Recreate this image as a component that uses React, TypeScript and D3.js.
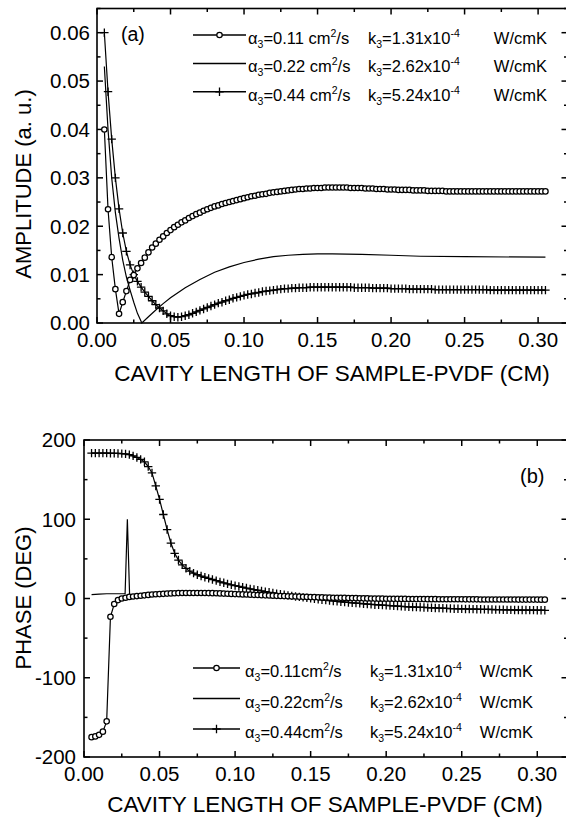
import React from "react";
import * as d3 from "d3";

// ---------- data ----------
// sample positions (cavity length, cm) of the marker series
const sampleX: number[] = d3.range(121).map((i) => +(0.005 + 0.0025 * i).toFixed(4));

// (a) amplitude, alpha3 = 0.11 (circles)
const ampA: number[] = [
  0.0400, 0.0235, 0.0136, 0.0070, 0.0019, 0.0043, 0.0066, 0.0089, 0.0099, 0.0113,
  0.0124, 0.0135, 0.0146, 0.0156, 0.0164, 0.0172, 0.0179, 0.0186, 0.0192, 0.0198,
  0.0203, 0.0208, 0.0212, 0.0217, 0.0221, 0.0225, 0.0228, 0.0232, 0.0235, 0.0238,
  0.0241, 0.0243, 0.0246, 0.0248, 0.0250, 0.0252, 0.0254, 0.0256, 0.0258, 0.0260,
  0.0262, 0.0263, 0.0265, 0.0266, 0.0267, 0.0269, 0.0270, 0.0271, 0.0272, 0.0273,
  0.0274, 0.0275, 0.0276, 0.0277, 0.0277, 0.0278, 0.0278, 0.0279, 0.0279, 0.0279,
  0.0280, 0.0280, 0.0280, 0.0280, 0.0280, 0.0280, 0.0280, 0.0279, 0.0279, 0.0279,
  0.0279, 0.0278, 0.0278, 0.0278, 0.0277, 0.0277, 0.0277, 0.0276, 0.0276, 0.0276,
  0.0275, 0.0275, 0.0275, 0.0275, 0.0274, 0.0274, 0.0274, 0.0274, 0.0273, 0.0273,
  0.0273, 0.0273, 0.0273, 0.0272, 0.0272, 0.0272, 0.0272, 0.0272, 0.0272, 0.0272,
  0.0272, 0.0272, 0.0272, 0.0272, 0.0272, 0.0272, 0.0272, 0.0272, 0.0272, 0.0272,
  0.0272, 0.0272, 0.0272, 0.0272, 0.0272, 0.0272, 0.0272, 0.0272, 0.0272, 0.0272,
  0.0272,
];

// (a) amplitude, alpha3 = 0.44 (plus)
const ampC: number[] = [
  0.0600, 0.0478, 0.0380, 0.0300, 0.0236, 0.0186, 0.0148, 0.0120, 0.0100, 0.0086,
  0.0074, 0.0064, 0.0055, 0.0046, 0.0038, 0.0031, 0.0025, 0.0019, 0.0015, 0.0013,
  0.0012, 0.0013, 0.0015, 0.0017, 0.0020, 0.0023, 0.0026, 0.0029, 0.0032, 0.0035,
  0.0038, 0.0041, 0.0043, 0.0046, 0.0048, 0.0051, 0.0053, 0.0055, 0.0057, 0.0059,
  0.0060, 0.0062, 0.0063, 0.0065, 0.0066, 0.0067, 0.0068, 0.0069, 0.0070, 0.0071,
  0.0071, 0.0072, 0.0072, 0.0073, 0.0073, 0.0073, 0.0074, 0.0074, 0.0074, 0.0074,
  0.0074, 0.0074, 0.0074, 0.0074, 0.0074, 0.0074, 0.0074, 0.0074, 0.0073, 0.0073,
  0.0073, 0.0073, 0.0073, 0.0072, 0.0072, 0.0072, 0.0072, 0.0072, 0.0071, 0.0071,
  0.0071, 0.0071, 0.0071, 0.0070, 0.0070, 0.0070, 0.0070, 0.0070, 0.0070, 0.0070,
  0.0069, 0.0069, 0.0069, 0.0069, 0.0069, 0.0069, 0.0069, 0.0069, 0.0069, 0.0069,
  0.0069, 0.0069, 0.0069, 0.0069, 0.0069, 0.0068, 0.0068, 0.0068, 0.0068, 0.0068,
  0.0068, 0.0068, 0.0068, 0.0068, 0.0068, 0.0068, 0.0068, 0.0068, 0.0068, 0.0068,
  0.0068,
];

// (a) amplitude, alpha3 = 0.22 (solid line)
const ampBX: number[] = [0.005, 0.0075, 0.01, 0.0125, 0.015, 0.0175, 0.02, 0.0225, 0.025, 0.0275, 0.0305, 0.035, 0.04, 0.045, 0.05, 0.06, 0.07, 0.08, 0.09, 0.10, 0.11, 0.12, 0.13, 0.14, 0.15, 0.16, 0.18, 0.20, 0.22, 0.25, 0.305];
const ampBY: number[] = [0.0530, 0.0400, 0.0300, 0.0228, 0.0175, 0.0130, 0.0095, 0.0068, 0.0043, 0.0020, 0.0, 0.0013, 0.0027, 0.0040, 0.0052, 0.0073, 0.0090, 0.0105, 0.0116, 0.0125, 0.0132, 0.0137, 0.0140, 0.0142, 0.0143, 0.0143, 0.0142, 0.0140, 0.0138, 0.0137, 0.0136];

// (b) phase, alpha3 = 0.11 (circles)
const phA: number[] = [
  -175, -174, -172, -168, -155, -23, -7, -2, 0, 1,
  2, 2.5, 3, 3.5, 4, 4.5, 5, 5.3, 5.6, 5.9,
  6.2, 6.4, 6.6, 6.8, 6.9, 7, 7, 7, 7, 7,
  6.9, 6.8, 6.7, 6.6, 6.4, 6.2, 6.0, 5.8, 5.6, 5.4,
  5.2, 5.0, 4.8, 4.6, 4.4, 4.2, 4.0, 3.8, 3.6, 3.4,
  3.2, 3.0, 2.8, 2.6, 2.5, 2.3, 2.1, 2.0, 1.8, 1.7,
  1.5, 1.4, 1.3, 1.1, 1.0, 0.9, 0.8, 0.7, 0.6, 0.5,
  0.4, 0.3, 0.2, 0.1, 0.0, -0.1, -0.2, -0.2, -0.3, -0.3,
  -0.4, -0.4, -0.5, -0.5, -0.6, -0.6, -0.7, -0.7, -0.7, -0.8,
  -0.8, -0.8, -0.9, -0.9, -0.9, -1.0, -1.0, -1.0, -1.0, -1.1,
  -1.1, -1.1, -1.1, -1.2, -1.2, -1.2, -1.2, -1.2, -1.3, -1.3,
  -1.3, -1.3, -1.3, -1.4, -1.4, -1.4, -1.4, -1.4, -1.4, -1.5,
  -1.5,
];

// (b) phase, alpha3 = 0.44 (plus)
const phC: number[] = [
  183.5, 183.5, 183.5, 183.5, 183.4, 183.3, 183.2, 183.0, 182.8, 182.5,
  181.5, 180.0, 178.0, 175.5, 172.5, 166.5, 158.5, 142, 125, 106,
  87, 70, 57, 48.5, 42.5, 38, 34.5, 32, 30, 28.3,
  26.8, 25.4, 24, 22.5, 21, 19.8, 18.5, 17.3, 16.2, 15.2,
  14.2, 13.2, 12.2, 11.3, 10.4, 9.5, 8.6, 7.8, 7.0, 6.2,
  5.4, 4.7, 4.0, 3.3, 2.6, 2.0, 1.4, 0.8, 0.2, -0.4,
  -1.0, -1.6, -2.1, -2.6, -3.1, -3.6, -4.1, -4.6, -5.0, -5.4,
  -5.8, -6.2, -6.6, -7.0, -7.4, -7.8, -8.1, -8.4, -8.7, -9.0,
  -9.3, -9.6, -9.9, -10.2, -10.5, -10.7, -10.9, -11.1, -11.3, -11.5,
  -11.7, -11.9, -12.1, -12.3, -12.5, -12.7, -12.9, -13.0, -13.1, -13.2,
  -13.3, -13.4, -13.5, -13.6, -13.7, -13.8, -13.9, -14.0, -14.1, -14.2,
  -14.3, -14.4, -14.5, -14.5, -14.6, -14.6, -14.7, -14.7, -14.8, -14.8,
  -14.9,
];

// (b) phase, alpha3 = 0.22 (solid line)
const phBX: number[] = [0.005, 0.01, 0.015, 0.02, 0.025, 0.0272, 0.0287, 0.0302, 0.035, 0.04, 0.05, 0.06, 0.07, 0.08, 0.09, 0.10, 0.12, 0.14, 0.16, 0.18, 0.20, 0.22, 0.25, 0.28, 0.305];
const phBY: number[] = [5, 5.5, 6, 6, 6, 6, 100, 3, 4, 5, 6.5, 7.5, 8, 8, 7.5, 6.5, 4.5, 2.5, 1, 0, -1, -1.5, -2, -2.3, -2.5];

const xTickLabels = ["0.00", "0.05", "0.10", "0.15", "0.20", "0.25", "0.30"];
const ampTickLabels = ["0.00", "0.01", "0.02", "0.03", "0.04", "0.05", "0.06"];
const phTickLabels = ["-200", "-100", "0", "100", "200"];

const legendA = [
  { a: "=0.11 cm", k: "=1.31x10", marker: "circle" },
  { a: "=0.22 cm", k: "=2.62x10", marker: "none" },
  { a: "=0.44 cm", k: "=5.24x10", marker: "plus" },
];
const legendB = [
  { a: "=0.11cm", k: "=1.31x10", marker: "circle" },
  { a: "=0.22cm", k: "=2.62x10", marker: "none" },
  { a: "=0.44cm", k: "=5.24x10", marker: "plus" },
];

// ---------- drawing ----------
const FONT = "'Liberation Sans', Arial, Helvetica, sans-serif";
const W = 566;
const H = 819;

function Circle({ cx, cy }: { cx: number; cy: number }) {
  return <circle cx={cx} cy={cy} r={2.7} fill="#fff" stroke="#000" strokeWidth={1.25} />;
}
function Plus({ cx, cy }: { cx: number; cy: number }) {
  const s = 4.2;
  return (
    <path
      d={`M${cx - s},${cy}H${cx + s}M${cx},${cy - s}V${cy + s}`}
      stroke="#000"
      strokeWidth={1.3}
      fill="none"
    />
  );
}

type FrameProps = {
  x: d3.ScaleLinear<number, number>;
  y: d3.ScaleLinear<number, number>;
  yMajor: number[];
  yMinor: number[];
  yLabels: string[];
  yLabelGap: number;
};

function Frame({ x, y, yMajor, yMinor, yLabels, yLabelGap }: FrameProps) {
  const [l, r] = x.range();
  const [b, t] = y.range();
  const xMajor = d3.range(7).map((i) => i * 0.05);
  const xMinor = d3.range(7).map((i) => 0.025 + i * 0.05).filter((v) => v < 0.32);
  const ML = 6;
  const mL = 3.5;
  const parts: React.ReactNode[] = [];
  xMajor.forEach((v, i) => {
    const px = x(v);
    parts.push(<line key={`xM${i}`} x1={px} x2={px} y1={b} y2={b - ML} />);
    parts.push(<line key={`xMt${i}`} x1={px} x2={px} y1={t} y2={t + ML} />);
  });
  xMinor.forEach((v, i) => {
    const px = x(v);
    parts.push(<line key={`xm${i}`} x1={px} x2={px} y1={b} y2={b - mL} />);
    parts.push(<line key={`xmt${i}`} x1={px} x2={px} y1={t} y2={t + mL} />);
  });
  yMajor.forEach((v, i) => {
    const py = y(v);
    parts.push(<line key={`yM${i}`} x1={l} x2={l + ML} y1={py} y2={py} />);
    parts.push(<line key={`yMr${i}`} x1={r} x2={r - ML} y1={py} y2={py} />);
  });
  yMinor.forEach((v, i) => {
    const py = y(v);
    parts.push(<line key={`ym${i}`} x1={l} x2={l + mL} y1={py} y2={py} />);
    parts.push(<line key={`ymr${i}`} x1={r} x2={r - mL} y1={py} y2={py} />);
  });
  return (
    <g>
      <g stroke="#000" strokeWidth={1.5}>{parts}</g>
      <rect x={l} y={t} width={r - l} height={b - t} fill="none" stroke="#000" strokeWidth={1.6} />
      <g fontFamily={FONT} fontSize={20.5} fill="#000">
        {xMajor.map((v, i) => (
          <text key={`xl${i}`} x={x(v)} y={b + 24} textAnchor="middle">
            {xTickLabels[i]}
          </text>
        ))}
        {yMajor.map((v, i) => (
          <text key={`yl${i}`} x={l - yLabelGap} y={y(v)} dy="0.36em" textAnchor="end">
            {yLabels[i]}
          </text>
        ))}
      </g>
    </g>
  );
}

function LegendRow({
  y,
  x0,
  x1,
  tx,
  kx,
  kEnd,
  row,
}: {
  y: number;
  x0: number;
  x1: number;
  tx: number;
  kx: number;
  kEnd: number;
  row: { a: string; k: string; marker: string };
}) {
  const mx = (x0 + x1) / 2;
  return (
    <g>
      <line x1={x0} x2={x1} y1={y} y2={y} stroke="#000" strokeWidth={1.5} />
      {row.marker === "circle" && <Circle cx={mx} cy={y} />}
      {row.marker === "plus" && <Plus cx={mx} cy={y} />}
      <text x={tx} y={y + 9} fontFamily={FONT} fontSize={16.5}>
        α<tspan dy={4} fontSize={10.5}>3</tspan>
        <tspan dy={-4}>{row.a}</tspan>
        <tspan dy={-7} fontSize={10.5}>2</tspan>
        <tspan dy={7}>/s</tspan>
      </text>
      <text x={kx} y={y + 9} fontFamily={FONT} fontSize={16.5}>
        k<tspan dy={4} fontSize={10.5}>3</tspan>
        <tspan dy={-4}>{row.k}</tspan>
        <tspan dy={-7} fontSize={10.5}>-4</tspan>
      </text>
      <text x={kEnd} y={y + 9} fontFamily={FONT} fontSize={16.5} textAnchor="end">
        W/cmK
      </text>
    </g>
  );
}

export default function App() {
  // panel (a)
  const xA = d3.scaleLinear().domain([0, 0.32]).range([97, 567.5]);
  const yA = d3.scaleLinear().domain([0, 0.065]).range([323, 8.5]);
  // panel (b)
  const xB = d3.scaleLinear().domain([0, 0.32]).range([84, 567.5]);
  const yB = d3.scaleLinear().domain([-200, 200]).range([757, 440]);

  const lineA = d3
    .line<[number, number]>()
    .x((d) => xA(d[0]))
    .y((d) => yA(d[1]));
  const lineB = d3
    .line<[number, number]>()
    .x((d) => xB(d[0]))
    .y((d) => yB(d[1]));

  const zip = (xs: number[], ys: number[]) => xs.map((v, i) => [v, ys[i]] as [number, number]);

  const ampAPts = zip(sampleX, ampA);
  const ampCPts = zip(sampleX, ampC);
  const ampBPts = zip(ampBX, ampBY);
  const phAPts = zip(sampleX, phA);
  const phCPts = zip(sampleX, phC);
  const phBPts = zip(phBX, phBY);

  return (
    <svg
      width={W}
      height={H}
      viewBox={`0 0 ${W} ${H}`}
      style={{ position: "absolute", left: 0, top: 0, background: "#fff" }}
    >
      <rect x={0} y={0} width={W} height={H} fill="#fff" />

      {/* ---------- panel (a) ---------- */}
      <Frame
        x={xA}
        y={yA}
        yMajor={d3.range(7).map((i) => i * 0.01)}
        yMinor={d3.range(7).map((i) => 0.005 + i * 0.01)}
        yLabels={ampTickLabels}
        yLabelGap={7}
      />
      <g fill="none" stroke="#000" strokeWidth={1.2}>
        <path d={lineA(ampBPts) ?? ""} />
        <path d={lineA(ampCPts) ?? ""} />
        <path d={lineA(ampAPts) ?? ""} />
      </g>
      {ampCPts.map((d, i) => (
        <Plus key={`ac${i}`} cx={xA(d[0])} cy={yA(d[1])} />
      ))}
      {ampAPts.map((d, i) => (
        <Circle key={`aa${i}`} cx={xA(d[0])} cy={yA(d[1])} />
      ))}
      <text x={121} y={41} fontFamily={FONT} fontSize={19.5}>
        (a)
      </text>
      {legendA.map((row, i) => (
        <LegendRow key={`la${i}`} y={35 + i * 28.4} x0={193} x1={246} tx={248} kx={368} kEnd={547} row={row} />
      ))}
      <text
        transform={`translate(23,184) rotate(-90)`}
        textAnchor="middle"
        dy="0.36em"
        fontFamily={FONT}
        fontSize={22}
      >
        AMPLITUDE (a. u.)
      </text>
      <text x={332} y={381} textAnchor="middle" fontFamily={FONT} fontSize={22.5}>
        CAVITY LENGTH OF SAMPLE-PVDF (CM)
      </text>

      {/* ---------- panel (b) ---------- */}
      <Frame
        x={xB}
        y={yB}
        yMajor={d3.range(5).map((i) => -200 + i * 100)}
        yMinor={d3.range(4).map((i) => -150 + i * 100)}
        yLabels={phTickLabels}
        yLabelGap={8}
      />
      <g fill="none" stroke="#000" strokeWidth={1.2}>
        <path d={lineB(phBPts) ?? ""} />
        <path d={lineB(phCPts) ?? ""} />
        <path d={lineB(phAPts) ?? ""} />
      </g>
      {phCPts.map((d, i) => (
        <Plus key={`pc${i}`} cx={xB(d[0])} cy={yB(d[1])} />
      ))}
      {phAPts.map((d, i) => (
        <Circle key={`pa${i}`} cx={xB(d[0])} cy={yB(d[1])} />
      ))}
      <text x={520} y={483} fontFamily={FONT} fontSize={20}>
        (b)
      </text>
      {legendB.map((row, i) => (
        <LegendRow key={`lb${i}`} y={668 + i * 30.5} x0={193} x1={240} tx={245} kx={370} kEnd={533} row={row} />
      ))}
      <text
        transform={`translate(23,598) rotate(-90)`}
        textAnchor="middle"
        dy="0.36em"
        fontFamily={FONT}
        fontSize={22}
      >
        PHASE (DEG)
      </text>
      <text x={325} y={812} textAnchor="middle" fontFamily={FONT} fontSize={22.5}>
        CAVITY LENGTH OF SAMPLE-PVDF (CM)
      </text>
    </svg>
  );
}
